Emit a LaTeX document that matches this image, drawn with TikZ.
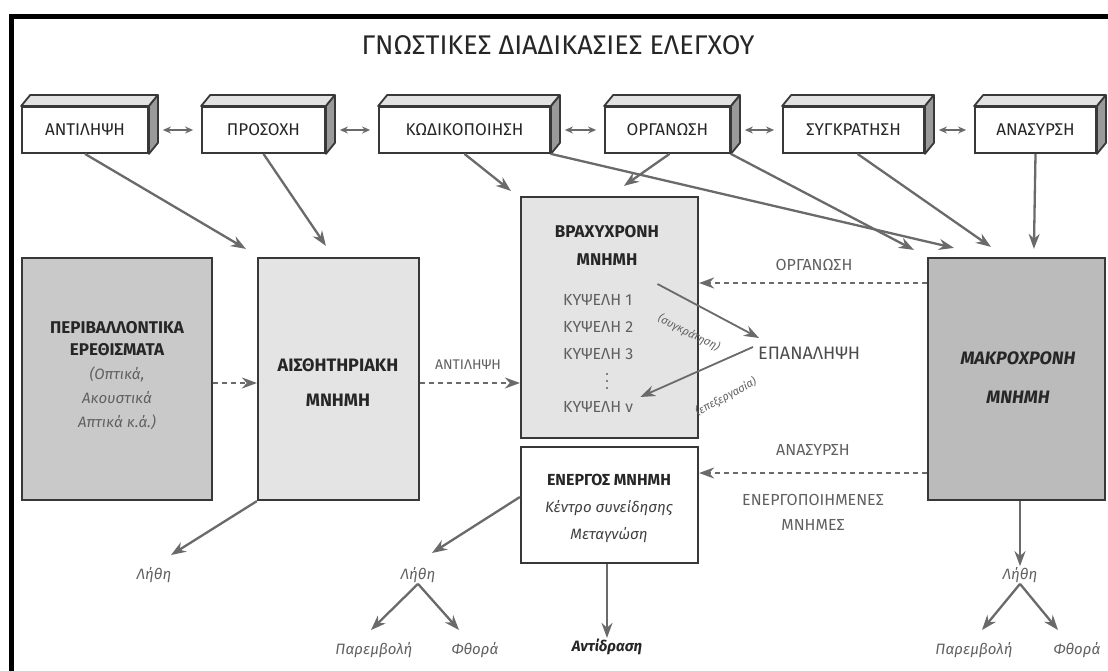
\documentclass[tikz,border=0pt]{standalone}
\usepackage{fontspec}
\setmainfont{Fira Sans}
\usetikzlibrary{arrows.meta}
\definecolor{arrc}{HTML}{6A6A6A}
\definecolor{txtg}{HTML}{606060}
\definecolor{fillA}{HTML}{C9C9C9}
\definecolor{fillB}{HTML}{E4E4E4}
\definecolor{fillC}{HTML}{BBBBBB}
\definecolor{edgec}{HTML}{383838}
\definecolor{sidec}{HTML}{9A9A9A}
\definecolor{topc}{HTML}{E2E2E2}
\newcommand\fsz[1]{\fontsize{#1}{#1}\selectfont}
\tikzset{
  cubefront/.style={draw=edgec, line width=1.8pt, fill=white, minimum height=46pt, inner sep=0pt, font=\fsz{17}, text=black!85},
  cubeface/.style={draw=edgec, line width=1.8pt, line join=round},
  bigbox/.style={draw=edgec, line width=2.2pt, inner sep=0pt},
  boldlbl/.style={inner sep=1pt, font=\bfseries\fsz{17}, text=black!85},
  graylbl/.style={inner sep=1pt, font=\fsz{16}, text=txtg},
  itlbl/.style={inner sep=1pt, font=\itshape\fsz{15}, text=txtg},
  titlelbl/.style={inner sep=1pt, font=\fsz{27}, text=black!85},
  arr/.style={draw=arrc, line width=2.3pt, -{Stealth[length=15pt,width=11pt]}},
  dasharr/.style={arr, dash pattern=on 5pt off 4pt},
  dbl/.style={draw=arrc, line width=1.5pt, {Stealth[length=8pt,width=7pt]}-{Stealth[length=8pt,width=7pt]}},
}
\newcommand\cubebox[4]{%
  \node[cubefront, minimum width=#3pt] (#1) at (#2,130) {#4};
  \filldraw[cubeface, fill=topc] (#1.north west) -- ++(9,-11) -- ([shift={(9,-11)}]#1.north east) -- (#1.north east) -- cycle;
  \filldraw[cubeface, fill=sidec] (#1.north east) -- ++(9,-11) -- ([shift={(9,-11)}]#1.south east) -- (#1.south east) -- cycle;
}
\begin{document}
\begin{tikzpicture}[x=1pt,y=-1pt]
\useasboundingbox (0,0) rectangle (1108,671);
\fill[white] (0,0) rectangle (1108,671);
\draw[line width=5pt] (11.5,671) -- (11.5,16.5) -- (1108,16.5);

\node[titlelbl] (title) at (558,45) {ΓΝΩΣΤΙΚΕΣ ΔΙΑΔΙΚΑΣΙΕΣ ΕΛΕΓΧΟΥ};

% top cubes
\cubebox{antil}{85}{126}{ΑΝΤΙΛΗΨΗ}
\cubebox{pros}{263.5}{123}{ΠΡΟΣΟΧΗ}
\cubebox{kod}{464.5}{171}{ΚΩΔΙΚΟΠΟΙΗΣΗ}
\cubebox{org}{667.5}{125}{ΟΡΓΑΝΩΣΗ}
\cubebox{syg}{853.5}{141}{ΣΥΓΚΡΑΤΗΣΗ}
\cubebox{anas}{1035.5}{121}{ΑΝΑΣΥΡΣΗ}

\draw[dbl] ([shift={(14,0)}]antil.east) -- ([shift={(-8,0)}]pros.west);
\draw[dbl] ([shift={(14,0)}]pros.east) -- ([shift={(-8,0)}]kod.west);
\draw[dbl] ([shift={(14,0)}]kod.east) -- ([shift={(-8,0)}]org.west);
\draw[dbl] ([shift={(14,0)}]org.east) -- ([shift={(-8,0)}]syg.west);
\draw[dbl] ([shift={(14,0)}]syg.east) -- ([shift={(-8,0)}]anas.west);

% big boxes
\node[bigbox, fill=fillA, minimum width=190pt, minimum height=242pt] (per) at (117,379) {};
\node[bigbox, fill=fillB, minimum width=161pt, minimum height=242pt] (ais) at (338.5,379) {};
\node[bigbox, fill=fillB, minimum width=177pt, minimum height=241pt] (brx) at (609.5,317.5) {};
\node[bigbox, fill=white, minimum width=177pt, minimum height=116pt] (ener) at (609.5,505) {};
\node[bigbox, fill=fillC, minimum width=177pt, minimum height=242pt] (makr) at (1016.5,379) {};

% texts in boxes
\node[boldlbl] (per1) at (117,328) {ΠΕΡΙΒΑΛΛΟΝΤΙΚΑ};
\node[boldlbl] (per2) at (117,350) {ΕΡΕΘΙΣΜΑΤΑ};
\node[itlbl] (per3) at (117,374) {(Οπτικά,};
\node[itlbl] (per4) at (117,398) {Ακουστικά};
\node[itlbl] (per5) at (117,422) {Απτικά κ.ά.)};
\node[boldlbl, font=\bfseries\fsz{18}] (ais1) at (338,365) {ΑΙΣΘΗΤΗΡΙΑΚΗ};
\node[boldlbl, font=\bfseries\fsz{18}] (ais2) at (338,400) {ΜΝΗΜΗ};
\node[boldlbl] (brx1) at (607,232) {ΒΡΑΧΥΧΡΟΝΗ};
\node[boldlbl] (brx2) at (607,260) {ΜΝΗΜΗ};
\node[graylbl, anchor=west] (k1) at (562,300) {ΚΥΨΕΛΗ 1};
\node[graylbl, anchor=west] (k2) at (562,327) {ΚΥΨΕΛΗ 2};
\node[graylbl, anchor=west] (k3) at (562,354) {ΚΥΨΕΛΗ 3};
\fill[txtg] (607,374) circle (1.2pt) (607,381) circle (1.2pt) (607,388) circle (1.2pt);
\node[graylbl, anchor=west] (kn) at (562,407) {ΚΥΨΕΛΗ ν};
\node[boldlbl, font=\bfseries\fsz{16}] (en1) at (609,480) {ΕΝΕΡΓΟΣ ΜΝΗΜΗ};
\node[itlbl, text=black!75] (en2) at (609,508) {Κέντρο συνείδησης};
\node[itlbl, text=black!75] (en3) at (609,535) {Μεταγνώση};
\node[boldlbl, font=\bfseries\itshape\fsz{18}] (mk1) at (1018,358) {ΜΑΚΡΟΧΡΟΝΗ};
\node[boldlbl, font=\bfseries\itshape\fsz{18}] (mk2) at (1018,397) {ΜΝΗΜΗ};

% arrows from top cubes
\draw[arr] (antil.south) -- ([shift={(-11,-8)}]ais.north west);
\draw[arr] (pros.south) -- ([shift={(69,-11)}]ais.north west);
\draw[arr] (kod.south) -- ([shift={(-9,-5)}]brx.north west);
\draw[arr] ([shift={(2,0)}]org.south) -- ([shift={(104,-10)}]brx.north west);
\draw[arr] (kod.south east) -- ([shift={(27,-9)}]makr.north west);
\draw[arr] (org.south east) -- ([shift={(-13,-7)}]makr.north west);
\draw[arr] ([shift={(4,0)}]syg.south) -- ([shift={(64,-10)}]makr.north west);
\draw[arr] (anas.south) -- ([shift={(107,-8)}]makr.north west);

% dashed arrows
\coordinate (y383) at (0,383);
\coordinate (y283) at (0,283);
\coordinate (y473) at (0,473);
\draw[dasharr] (per.east |- y383) -- (ais.west |- y383);
\draw[dasharr] (ais.east |- y383) -- (brx.west |- y383);
\node[graylbl, font=\fsz{14}] (lant) at (468,365) {ΑΝΤΙΛΗΨΗ};
\draw[dasharr] (makr.west |- y283) -- (brx.east |- y283);
\node[graylbl] (lorg) at (814,265) {ΟΡΓΑΝΩΣΗ};
\draw[dasharr] (makr.west |- y473) -- (ener.east |- y473);
\node[graylbl] (lana) at (813,450) {ΑΝΑΣΥΡΣΗ};
\node[graylbl] (lene1) at (813,500) {ΕΝΕΡΓΟΠΟΙΗΜΕΝΕΣ};
\node[graylbl] (lene2) at (813,525) {ΜΝΗΜΕΣ};

% repetition
\node[graylbl, font=\fsz{18}, text=black!70, anchor=west] (epan) at (757,353) {ΕΠΑΝΑΛΗΨΗ};
\draw[arr, line width=1.8pt] ([shift={(24,-16)}]k1.east) -- ([shift={(2,-15)}]epan.west);
\draw[arr, line width=1.8pt] ([shift={(-4,-6)}]epan.west) -- ([shift={(6,-10)}]kn.east);
\node[itlbl, font=\itshape\fsz{11}, rotate=-27] (lsyg) at (689,333) {(συγκράτηση)};
\node[itlbl, font=\itshape\fsz{11}, rotate=28] (lepe) at (726,397) {(επεξεργασία)};

% bottom
\node[itlbl] (lithL) at (154,575) {Λήθη};
\node[itlbl] (lithM) at (418,575) {Λήθη};
\node[itlbl] (lithR) at (1020,575) {Λήθη};
\node[itlbl] (parM) at (374,650) {Παρεμβολή};
\node[itlbl] (fthM) at (475,650) {Φθορά};
\node[itlbl] (parR) at (974,650) {Παρεμβολή};
\node[itlbl] (fthR) at (1077,650) {Φθορά};
\node[inner sep=1pt, font=\bfseries\itshape\fsz{15}, text=black!85] (antid) at (607,647) {Αντίδραση};

\draw[arr] (ais.south west) -- ([shift={(17,-20)}]lithL.center);
\draw[arr] ([shift={(0,-8)}]ener.west) -- ([shift={(14,-22)}]lithM.center);
\draw[arr] (lithM.south) -- ([shift={(-3,-20)}]parM.center);
\draw[arr] (lithM.south) -- ([shift={(-16,-20)}]fthM.center);
\draw[arr] (ener.south -| antid) -- (antid.north);
\draw[arr] (makr.south -| lithR) -- (lithR.north);
\draw[arr] (lithR.south) -- ([shift={(8,-20)}]parR.center);
\draw[arr] (lithR.south) -- ([shift={(-19,-20)}]fthR.center);
\end{tikzpicture}
\end{document}
